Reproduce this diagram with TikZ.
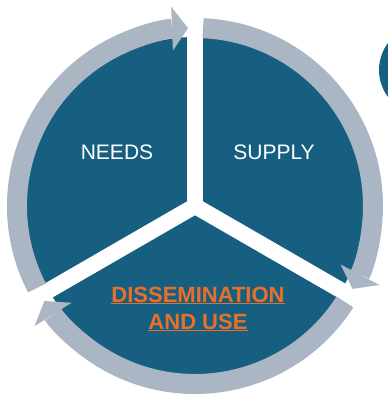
\documentclass[tikz,border=0pt]{standalone}
\usepackage{fontspec}
\setmainfont{Liberation Sans}
\usetikzlibrary{arrows.meta}
\definecolor{discblue}{RGB}{23,95,128}
\definecolor{ringgray}{RGB}{170,182,195}
\definecolor{labelorange}{RGB}{234,112,42}

\begin{document}
\begin{tikzpicture}[x=1pt,y=1pt]
  \def\R{178} % radius of the ring
  \def\r{169} % radius of the disc

  \useasboundingbox (0,0) rectangle (388,399);
  \clip (0,0) rectangle (388,399);
  \coordinate (C) at (195,193);

  % Disc and the circle cut off at the right
  \fill[discblue] (C) circle (\r);
  \fill[discblue] (424,329) circle (45);

  % White gaps between the parts
  \foreach \a in {90,210,330} {
    \draw[white, line width=16pt] (C) -- ++(\a:195);
  }

  % Ring arrows (clockwise)
  \foreach \s/\e in {207.4/92.25, 87.4/-27.75, -32.6/-147.75} {
    \draw[ringgray, line width=20pt, -{Triangle[width=44pt,length=16pt,line width=0pt]}]
      ([shift={(\s:\R)}]C) arc[start angle=\s, end angle=\e, radius=\R];
  }

  % Labels
  \node[text=white, font=\fontsize{21}{25}\selectfont] (needs) at (117,247) {NEEDS};
  \node[text=white, font=\fontsize{21}{25}\selectfont] (supply) at (274,247) {SUPPLY};
  \node[text=labelorange, align=center, font=\fontsize{22}{27}\selectfont\bfseries] (use) at (198,90)
    {\underline{DISSEMINATION}\\\underline{AND USE}};
\end{tikzpicture}
\end{document}
